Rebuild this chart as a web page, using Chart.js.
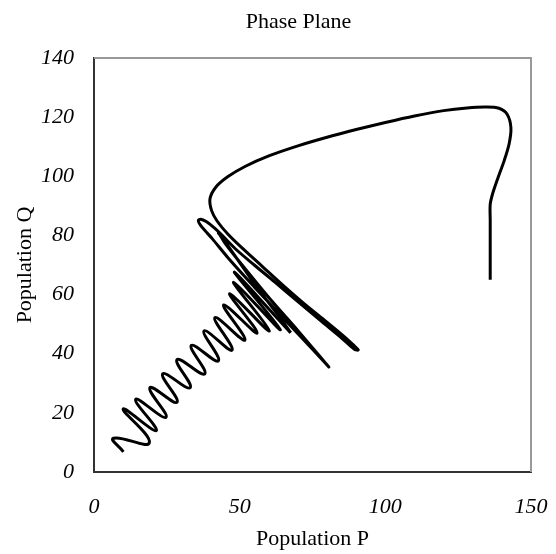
<!DOCTYPE html>
<html>
<head>
<meta charset="utf-8">
<script src="https://cdn.jsdelivr.net/npm/chart.js@4"></script>
<style>
  html, body { margin: 0; padding: 0; background: #fff; }
  #wrap { width: 556px; height: 554px; }
</style>
</head>
<body>
<div id="wrap"><canvas id="phase"></canvas></div>
<script>
// trajectory in drawing order, population P (x) against population Q (y)
// first part: big loop and the long swings
const loopP = [
  136, 136, 136, 136, 136, 136,
  136.8, 138.5, 140.8, 142.5, 143.1, 141.8, 139, 134.5, 128, 120, 110, 100, 90, 80, 70, 60, 52, 46, 41.8,
  39.8, 40.4, 42.3, 46, 51, 58, 65, 72, 79, 85, 89, 90.7,
  89.5, 85, 78, 70, 62, 55, 48.5, 44, 41.6, 38.5, 36.6, 35.8, 36.6, 38.5, 40.5, 46.2, 55, 65, 75, 80.6,
  79.5, 70, 60, 50, 45, 43.2, 42.7, 43.6, 46, 55, 65, 67.5
];
const loopQ = [
  65, 70, 75, 80, 85, 90.5,
  94, 99, 105.3, 111, 116.5, 121, 123, 123.4, 123.1, 122.2, 120.4, 118.2, 115.8, 113.2, 110.3, 106.9, 103.4, 99.9, 96.3,
  92.3, 88.3, 84.8, 80.4, 75.6, 69.3, 63, 57, 51.4, 46.5, 43, 41.3,
  41.4, 45.3, 51, 57.6, 64.3, 70, 75.5, 80, 82.3, 84.7, 85.5, 85, 83.4, 81.2, 79, 72.2, 62.6, 52, 41.5, 35.5,
  36.8, 47.8, 59, 71, 77.3, 80.2, 80.8, 80, 76.5, 63.8, 50.6, 47.1
];
// second part: the zigzag running down to the lower left
const zigP = [
  67.5, 48.2, 64, 47.9, 60.2, 46.6, 56, 44.5, 51.8, 41.5, 47.4, 37.8, 42.7, 33.4, 38, 28.5, 33, 23.6,
  28.5, 19.2, 24.7, 14.3, 21.4, 10, 19, 6.7, 10.1
];
const zigQ = [
  47.1, 67.6, 48.1, 64.2, 47.7, 60.3, 47, 56.5, 44.6, 52.2, 41.2, 47.7, 37.6, 42.8, 33.2, 38, 28.5, 33.2,
  23.6, 28.5, 18.5, 24.6, 14, 21.3, 9.9, 11.4, 6.8
];
const xTicks = [0, 50, 100, 150];
const yTicks = [0, 20, 40, 60, 80, 100, 120, 140];
const chartTitle = 'Phase Plane';

const serif = 'Liberation Serif';

const toPoints = (xs, ys) => xs.map((x, i) => ({ x: x, y: ys[i] }));

const lineStyle = {
  showLine: true,
  borderColor: '#000',
  borderWidth: 3,
  pointRadius: 0,
  fill: false
};

// grey frame on the top and right of the plot area
const frame = {
  id: 'frame',
  afterDraw: (chart) => {
    const { ctx, chartArea: a } = chart;
    ctx.save();
    ctx.strokeStyle = '#999999';
    ctx.lineWidth = 2;
    ctx.beginPath();
    ctx.moveTo(a.left, a.top);
    ctx.lineTo(a.right, a.top);
    ctx.lineTo(a.right, a.bottom);
    ctx.stroke();
    ctx.restore();
  }
};

// the title sits a bit left of the plot centre, like the original
const titleText = {
  id: 'titleText',
  afterDraw: (chart) => {
    const { ctx, chartArea: a } = chart;
    ctx.save();
    ctx.fillStyle = '#000';
    ctx.font = `22px "${serif}"`;
    ctx.textAlign = 'center';
    ctx.textBaseline = 'middle';
    ctx.fillText(chartTitle, (a.left + a.right) / 2 - 14, 22);
    ctx.restore();
  }
};

const ctx = document.getElementById('phase').getContext('2d');
new Chart(ctx, {
  type: 'scatter',
  data: {
    datasets: [
      { ...lineStyle, data: toPoints(loopP, loopQ), tension: 0.3 },
      { ...lineStyle, data: toPoints(zigP, zigQ), tension: 0.5 }
    ]
  },
  options: {
    responsive: true,
    maintainAspectRatio: false,
    animation: false,
    layout: { padding: { left: 0, right: 25, top: 58, bottom: 0 } },
    plugins: {
      legend: { display: false },
      tooltip: { enabled: false },
      title: { display: false }
    },
    scales: {
      x: {
        type: 'linear',
        min: 0,
        max: 150,
        afterBuildTicks: (s) => { s.ticks = xTicks.map(v => ({ value: v })); },
        afterFit: (s) => {
          s.height = 82;
          // keep the label overhang from eating into the plot width
          s.paddingLeft = 0;
          s.paddingRight = 0;
        },
        grid: { display: false, drawOnChartArea: false, drawTicks: true, tickLength: 7, tickColor: '#333', tickWidth: 2 },
        border: { display: true, color: '#333', width: 2 },
        ticks: { color: '#000', padding: 15, font: { family: serif, size: 22, style: 'italic' } },
        title: { display: true, text: 'Population P', color: '#000', font: { family: serif, size: 22 }, padding: { top: 0, bottom: 2 } }
      },
      y: {
        type: 'linear',
        min: 0,
        max: 140,
        afterBuildTicks: (s) => { s.ticks = yTicks.map(v => ({ value: v })); },
        afterFit: (s) => { s.width = 94; },
        grid: { display: false, drawOnChartArea: false, drawTicks: true, tickLength: 7, tickColor: '#333', tickWidth: 2 },
        border: { display: true, color: '#333', width: 2 },
        ticks: { color: '#000', padding: 13, font: { family: serif, size: 22, style: 'italic' } },
        title: { display: true, text: 'Population Q', color: '#000', font: { family: serif, size: 22 }, padding: { top: 11.8, bottom: 0 } }
      }
    }
  },
  plugins: [frame, titleText]
});
</script>
</body>
</html>
